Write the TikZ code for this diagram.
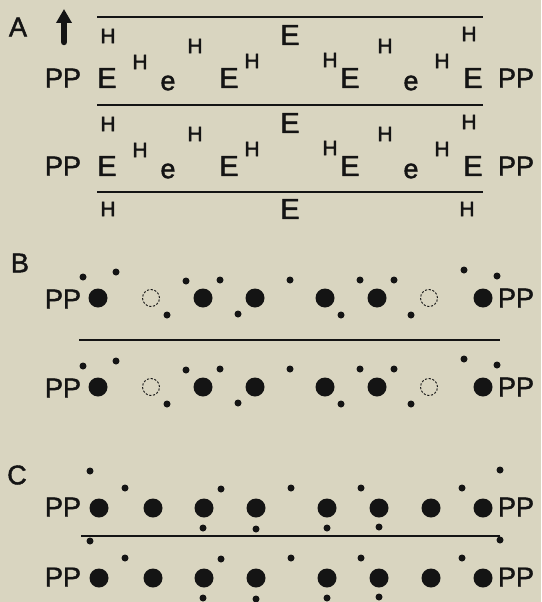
\documentclass[tikz,border=0pt]{standalone}
\usepackage{fontspec}
\setmainfont{Liberation Sans}[BoldFont={Liberation Sans},BoldFeatures={FakeBold=1.6}]
\usetikzlibrary{arrows.meta}
\definecolor{paper}{RGB}{217,213,192}
\definecolor{ink}{RGB}{20,20,20}
\begin{document}
\begin{tikzpicture}[x=1pt,y=-1pt,
  every node/.style={inner sep=0pt,text=ink,font=\bfseries},
  bigE/.style={font=\bfseries\fontsize{29}{29}\selectfont},
  smallH/.style={font=\bfseries\fontsize{21}{21}\selectfont},
  lowe/.style={font=\bfseries\fontsize{27}{27}\selectfont},
  pp/.style={font=\bfseries\fontsize{27}{27}\selectfont},
  panel/.style={font=\bfseries\fontsize{27}{27}\selectfont},
  atom/.style={circle,fill=ink,minimum size=19pt},
  vacancy/.style={circle,draw=ink,line width=0.9pt,dash pattern=on 2.2pt off 1.6pt,minimum size=17pt},
  elec/.style={circle,fill=ink,minimum size=7pt},
  plane/.style={draw=ink,line width=1.1pt}]

\fill[paper] (0,0) rectangle (541,602);
\useasboundingbox (0,0) rectangle (541,602);

% ---------- panel A: lettered layers ----------
\node[panel] (labA) at (18,27) {A};
\coordinate (arrfoot) at (64,42);
\coordinate (arrtip) at (64,9);
\draw[ink,line width=6.5pt,line cap=round,-{Triangle[width=15pt,length=14pt]}] (arrfoot) -- (arrtip);

\draw[plane] (97,17) -- (483,17);
\draw[plane] (97,105) -- (483,105);
\draw[plane] (97,192) -- (483,192);

\foreach \r/\s in {0/1,88/2} {
  \node[pp] (appl\s) at (63,{78+\r}) {PP};
  \node[pp] (appr\s) at (516,{78+\r}) {PP};
  \foreach \x/\y [count=\i] in {107/78,229/78,290/35,350/78,473/78}
    \node[bigE] (a\s E\i) at (\x,{\y+\r}) {E};
  \foreach \x/\y [count=\i] in {168/83,411/83}
    \node[lowe] (a\s e\i) at (\x,{\y+\r}) {e};
  \foreach \x/\y [count=\i] in {108/36,140/62,195/46,252/61,330/60,385/46,442/61,469/34}
    \node[smallH] (a\s H\i) at (\x,{\y+\r}) {H};
}
\node[smallH] (a3H1) at (108,209) {H};
\node[bigE] (a3E1) at (290,209) {E};
\node[smallH] (a3H2) at (467,209) {H};

% ---------- panel B: atoms with vacancies ----------
\node[panel] (labB) at (20,263) {B};
\draw[plane] (79,340) -- (500,340);
\foreach \r/\s in {0/1,89/2} {
  \node[pp] (bppl\s) at (63,{299+\r}) {PP};
  \node[pp] (bppr\s) at (516,{298+\r}) {PP};
  \foreach \x [count=\i] in {98,203,255,325,377,483}
    \node[atom] (b\s a\i) at (\x,{298+\r}) {};
  \foreach \x [count=\i] in {151,429}
    \node[vacancy] (b\s v\i) at (\x,{298+\r}) {};
  \foreach \x/\y [count=\i] in {83/277,116/272,167/315,186/281,220/280,238/314,290/280,341/315,360/280,394/280,411/315,464/270,497/276}
    \node[elec] (b\s d\i) at (\x,{\y+\r}) {};
}

% ---------- panel C: filled layers ----------
\node[panel] (labC) at (17,475) {C};
\draw[plane] (81,536) -- (500,536);
\foreach \r/\s in {0/1,70/2} {
  \node[pp] (cppl\s) at (63,{507+\r}) {PP};
  \node[pp] (cppr\s) at (516,{507+\r}) {PP};
  \foreach \x [count=\i] in {99,153,204,256,327,379,431,483}
    \node[atom] (c\s a\i) at (\x,{508+\r}) {};
  \foreach \x/\y [count=\i] in {90/471,125/488,221/489,291/488,361/488,462/488,500/470,203/528,256/529,327/528,379/527}
    \node[elec] (c\s d\i) at (\x,{\y+\r}) {};
}
\end{tikzpicture}
\end{document}
